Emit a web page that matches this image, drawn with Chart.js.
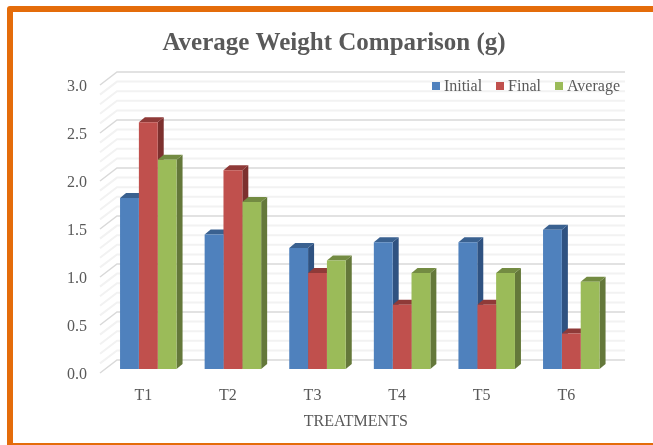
<!DOCTYPE html>
<html>
<head>
<meta charset="utf-8">
<title>Average Weight Comparison (g)</title>
<script src="https://cdn.jsdelivr.net/npm/chart.js@4/dist/chart.umd.min.js"></script>
<style>
  html, body { margin: 0; padding: 0; width: 653px; height: 445px; overflow: hidden; background: #fff; }
  #frame { position: absolute; left: 7px; top: 6px; width: 680px; height: 431px; border: 6px solid #E46C0A; border-radius: 3px; }
  #chart { position: absolute; left: 0; top: 0; }
  #legend { position: absolute; top: 76px; right: 33px; display: flex; font: 16px "Liberation Serif", serif; color: #595959; line-height: 20px; }
  .legend-item { display: flex; align-items: center; margin-left: 14px; }
  .legend-dot { width: 8px; height: 8px; margin-right: 4px; }
</style>
</head>
<body>
<div id="frame"></div>
<canvas id="chart" width="653" height="445"></canvas>
<div id="legend"></div>
<script>
const categories = ['T1', 'T2', 'T3', 'T4', 'T5', 'T6'];
const initial = [1.78, 1.40, 1.26, 1.32, 1.32, 1.45];
const final = [2.57, 2.07, 1.00, 0.67, 0.67, 0.37];
const average = [2.18, 1.74, 1.13, 1.00, 1.00, 0.91];
const seriesNames = ['Initial', 'Final', 'Average'];
const frontColors = ['#4F81BD', '#C0504D', '#9BBB59'];
const topColors = ['#3A6190', '#8F3A38', '#738B42'];
const sideColors = ['#2F5281', '#7D302E', '#64783A'];
const axisTitle = 'TREATMENTS';
const chartTitle = 'Average Weight Comparison (g)';
const textColor = '#595959';
const serif = '"Liberation Serif", serif';

// Fake 3D: walls and bar faces are drawn before the flat bars
const depth3d = {
  id: 'depth3d',
  beforeDatasetsDraw(chart) {
    const { ctx, chartArea } = chart;
    const y = chart.scales.y;

    // Griglia: back wall + left side
    y.ticks.forEach(t => {
      const py = y.getPixelForValue(t.value);
      const major = Math.round(t.value * 10) % 5 === 0;
      ctx.strokeStyle = major ? '#D9D9D9' : '#F2F2F2';
      ctx.lineWidth = major ? 1.5 : 2;
      ctx.beginPath();
      ctx.moveTo(chartArea.left - 6, py + 4);
      ctx.lineTo(chartArea.left + 11, py - 9);
      ctx.lineTo(chartArea.right + 11.4, py - 9);
      ctx.stroke();
    });

    // Top and side faces, left to right so later bars overlap earlier ones
    const dx = 6, dy = 5;
    chart.data.datasets.forEach((ds, i) => {
      chart.getDatasetMeta(i).data.forEach(bar => {
        const { x, y: top, base, width } = bar.getProps(['x', 'y', 'base', 'width'], true);
        const l = x - width / 2, r = x + width / 2;
        ctx.fillStyle = sideColors[i];
        ctx.beginPath();
        ctx.moveTo(r, top);
        ctx.lineTo(r + dx, top - dy);
        ctx.lineTo(r + dx, base - dy);
        ctx.lineTo(r, base);
        ctx.closePath();
        ctx.fill();
        ctx.fillStyle = topColors[i];
        ctx.beginPath();
        ctx.moveTo(l, top);
        ctx.lineTo(l + dx, top - dy);
        ctx.lineTo(r + dx, top - dy);
        ctx.lineTo(r, top);
        ctx.closePath();
        ctx.fill();
      });
    });
  }
};

new Chart(document.getElementById('chart').getContext('2d'), {
  type: 'bar',
  data: {
    labels: categories,
    datasets: [initial, final, average].map((values, i) => ({
      label: seriesNames[i],
      data: values,
      backgroundColor: frontColors[i],
      borderWidth: 0,
      categoryPercentage: 0.668,
      barPercentage: 1
    }))
  },
  options: {
    responsive: false,
    animation: false,
    layout: { padding: { left: 54.4, right: 39.4, top: 0, bottom: 0 } },
    plugins: {
      legend: { display: false },
      tooltip: { enabled: false },
      title: {
        display: true,
        text: chartTitle,
        color: textColor,
        font: { family: serif, size: 25, weight: 'bold', lineHeight: 1.2 },
        padding: { top: 29, bottom: 22 }
      }
    },
    scales: {
      x: {
        grid: { display: false },
        border: { display: false },
        ticks: { color: textColor, font: { family: serif, size: 16 }, padding: 9, labelOffset: -5, maxRotation: 0 },
        title: {
          display: true,
          text: axisTitle + '\u00a0\u00a0',
          color: textColor,
          font: { family: serif, size: 16 },
          padding: { top: 0, bottom: 14 }
        },
        afterFit: s => { s.height = 76; }
      },
      y: {
        min: 0,
        max: 3,
        grid: { display: false },
        border: { display: false },
        ticks: {
          stepSize: 0.1,
          autoSkip: false,
          color: textColor,
          font: { family: serif, size: 16 },
          padding: 11,
          labelOffset: 5.5,
          callback: v => Math.round(v * 10) % 5 === 0 ? v.toFixed(1) : ''
        },
        afterFit: s => { s.width = 51.6; }
      }
    }
  },
  plugins: [depth3d]
});

// Legenda HTML
document.getElementById('legend').innerHTML = seriesNames.map((name, i) =>
  `<div class="legend-item"><span class="legend-dot" style="background:${frontColors[i]}"></span>${name}</div>`
).join('');
</script>
</body>
</html>
